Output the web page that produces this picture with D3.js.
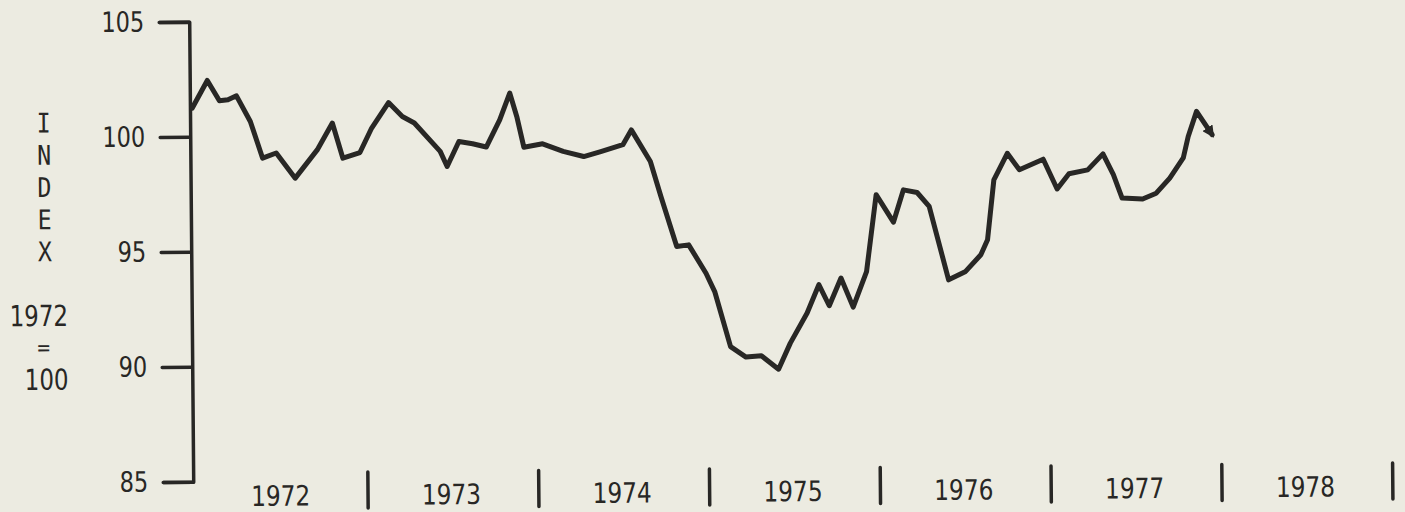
<!DOCTYPE html>
<html><head><meta charset="utf-8">
<script src="https://cdn.jsdelivr.net/npm/d3@7"></script>
<style>html,body{margin:0;padding:0;background:#ecebe1;} svg{display:block}</style>
</head><body><svg id="chart" width="1405" height="512"></svg>
<script>
// ---- data ----
const years = [1972, 1973, 1974, 1975, 1976, 1977, 1978];
const yearLabels = ["1972", "1973", "1974", "1975", "1976", "1977", "1978"];
const dates = [
  1971.99, 1972.08, 1972.15, 1972.20, 1972.25, 1972.33, 1972.40, 1972.48, 1972.59, 1972.72,
  1972.81, 1972.87, 1972.97, 1973.04, 1973.14, 1973.22, 1973.29, 1973.44, 1973.48, 1973.55,
  1973.63, 1973.71, 1973.79, 1973.85, 1973.89, 1973.93, 1974.04, 1974.16, 1974.28, 1974.38,
  1974.51, 1974.56, 1974.67, 1974.73, 1974.82, 1974.89, 1974.99, 1975.04, 1975.13, 1975.22,
  1975.31, 1975.41, 1975.48, 1975.58, 1975.65, 1975.71, 1975.78, 1975.85, 1975.93, 1975.99,
  1976.09, 1976.15, 1976.23, 1976.30, 1976.34, 1976.41, 1976.51, 1976.60, 1976.64, 1976.68,
  1976.76, 1976.83, 1976.97, 1977.05, 1977.12, 1977.23, 1977.32, 1977.38, 1977.43, 1977.55,
  1977.63, 1977.71, 1977.79, 1977.82, 1977.87, 1977.96
];
const values = [
  101.24, 102.44, 101.55, 101.59, 101.76, 100.64, 99.04, 99.26, 98.16, 99.38,
  100.54, 99.01, 99.25, 100.31, 101.41, 100.80, 100.51, 99.27, 98.61, 99.69,
  99.59, 99.44, 100.62, 101.78, 100.76, 99.42, 99.56, 99.22, 98.99, 99.20,
  99.49, 100.13, 98.75, 97.22, 95.04, 95.11, 93.87, 93.07, 90.67, 90.21,
  90.26, 89.67, 90.80, 92.10, 93.33, 92.41, 93.61, 92.34, 93.88, 97.22,
  96.02, 97.42, 97.30, 96.69, 95.53, 93.49, 93.85, 94.57, 95.22, 97.82,
  98.97, 98.25, 98.70, 97.40, 98.06, 98.22, 98.91, 98.00, 96.98, 96.93,
  97.18, 97.83, 98.70, 99.63, 100.72, 99.70
];
const yTickValues = [85, 90, 95, 100, 105];
const titleLetters = ["I", "N", "D", "E", "X"];
const baseLines = ["1972", "=", "100"];

// ---- drawing ----
const ink = "#282725";
const bg = "#ecebe1";
const svg = d3.select("#chart");
svg.append("rect").attr("width", 1405).attr("height", 512).attr("fill", bg);
const g = svg.append("g").attr("transform", "rotate(-0.5,700,260)");

const x = d3.scaleLinear().domain([1972, 1979]).range([195.2, 1390.8]);
const y = d3.scaleLinear().domain([85, 105]).range([477.3, 17.3]);
const axisX = 191.3;

function condense(sel, f) {
  sel.each(function () {
    const w = this.getComputedTextLength();
    d3.select(this).attr("textLength", w * f).attr("lengthAdjust", "spacingAndGlyphs");
  });
}

// y axis (bracket shaped domain + ticks)
const yAxis = d3.axisLeft(y).tickValues(yTickValues).tickSize(30).tickSizeOuter(30)
  .tickPadding(15).tickFormat(d3.format("d"));
const ga = g.append("g").attr("transform", `translate(${axisX},0)`).call(yAxis);
ga.select(".domain").attr("stroke", ink).attr("stroke-width", 3.5)
  .attr("stroke-linejoin", "round").attr("fill", "none");
ga.selectAll(".tick line").attr("stroke", ink).attr("stroke-width", 3.5).attr("stroke-linecap", "round");
const tickTexts = ga.selectAll(".tick text").attr("fill", ink)
  .style("font-family", "DejaVu Sans").style("font-size", "28px");
condense(tickTexts, 0.80);

// title on the left
const tl = g.append("g").attr("fill", ink);
tl.selectAll("text.letter").data(titleLetters).join("text")
  .attr("class", "letter")
  .attr("x", 45).attr("y", (d, i) => 117 + 32.2 * i + 9.8)
  .attr("text-anchor", "middle")
  .style("font-family", "DejaVu Sans Mono").style("font-size", "27px")
  .text(d => d)
  .call(s => condense(s, 0.86));

const bl = tl.selectAll("text.base").data(baseLines).join("text")
  .attr("class", "base")
  .attr("x", (d, i) => i === 1 ? 43 : 67.5)
  .attr("y", (d, i) => [320.3, 349.5, 384.1][i])
  .attr("text-anchor", (d, i) => i === 1 ? "middle" : "end")
  .style("font-family", "DejaVu Sans")
  .style("font-size", (d, i) => i === 1 ? "22px" : "29px")
  .text(d => d);
condense(bl, 0.79);

// year separators and labels (no horizontal axis line)
g.selectAll("line.sep").data(years.map(d => d + 1)).join("line")
  .attr("class", "sep")
  .attr("x1", d => x(d)).attr("x2", d => x(d))
  .attr("y1", 469).attr("y2", 505)
  .attr("stroke", ink).attr("stroke-width", 3.5).attr("stroke-linecap", "round");

const yl = g.selectAll("text.year").data(years).join("text")
  .attr("class", "year")
  .attr("x", d => x(d + 0.5) - 2).attr("y", 502)
  .attr("text-anchor", "middle").attr("fill", ink)
  .style("font-family", "DejaVu Sans").style("font-size", "28px")
  .text((d, i) => yearLabels[i]);
condense(yl, 0.83);

// arrow-like end mark
const defs = svg.append("defs");
defs.append("marker").attr("id", "endmark")
  .attr("viewBox", "0 0 10 10").attr("refX", 7).attr("refY", 5)
  .attr("markerWidth", 2.4).attr("markerHeight", 2.4).attr("orient", "auto")
  .append("path").attr("d", "M0,0 L10,5 L0,10 z").attr("fill", ink);

// the index line
const line = d3.line().x((d, i) => x(dates[i])).y(d => y(d));
g.append("path").datum(values)
  .attr("d", line)
  .attr("fill", "none").attr("stroke", ink).attr("stroke-width", 5)
  .attr("stroke-linejoin", "round").attr("stroke-linecap", "round")
  .attr("marker-end", "url(#endmark)");
</script>
</body></html>
